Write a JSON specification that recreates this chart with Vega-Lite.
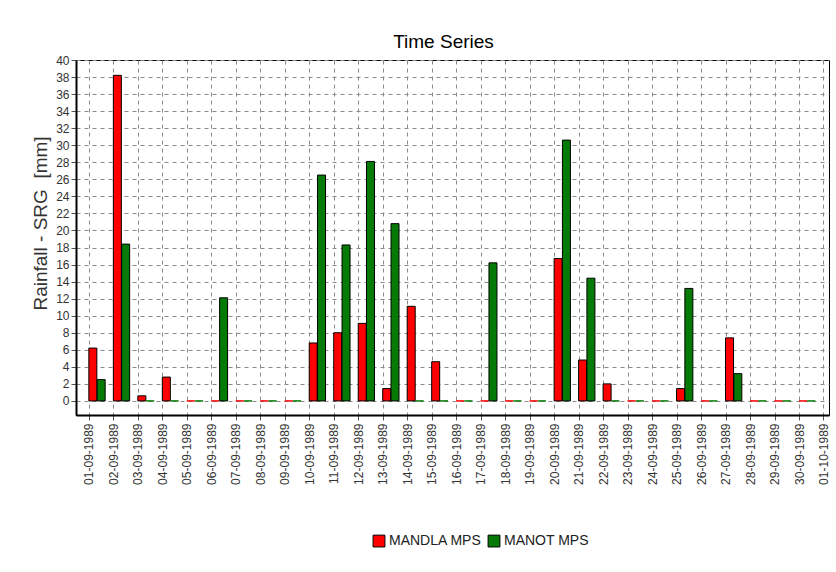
{
  "$schema": "https://vega.github.io/schema/vega-lite/v6.json",
  "autosize": "none",
  "width": 753,
  "height": 355,
  "padding": {"left": 76, "top": 60, "right": 7, "bottom": 157},
  "background": "white",
  "config": {
    "font": "Liberation Sans",
    "view": {"stroke": "#000000", "strokeWidth": 1}
  },
  "title": {
    "text": "Time Series",
    "fontSize": 19,
    "fontWeight": "normal",
    "color": "#000000",
    "anchor": "middle",
    "dx": -9,
    "offset": 2
  },
  "data": {
    "values": [
      {"date": "1989-09-01", "MANDLA MPS": 6.2, "MANOT MPS": 2.5},
      {"date": "1989-09-02", "MANDLA MPS": 38.2, "MANOT MPS": 18.4},
      {"date": "1989-09-03", "MANDLA MPS": 0.6, "MANOT MPS": 0},
      {"date": "1989-09-04", "MANDLA MPS": 2.8, "MANOT MPS": 0},
      {"date": "1989-09-05", "MANDLA MPS": 0, "MANOT MPS": 0},
      {"date": "1989-09-06", "MANDLA MPS": 0, "MANOT MPS": 12.1},
      {"date": "1989-09-07", "MANDLA MPS": 0, "MANOT MPS": 0},
      {"date": "1989-09-08", "MANDLA MPS": 0, "MANOT MPS": 0},
      {"date": "1989-09-09", "MANDLA MPS": 0, "MANOT MPS": 0},
      {"date": "1989-09-10", "MANDLA MPS": 6.8, "MANOT MPS": 26.5},
      {"date": "1989-09-11", "MANDLA MPS": 8.0, "MANOT MPS": 18.3},
      {"date": "1989-09-12", "MANDLA MPS": 9.1, "MANOT MPS": 28.1},
      {"date": "1989-09-13", "MANDLA MPS": 1.45, "MANOT MPS": 20.8},
      {"date": "1989-09-14", "MANDLA MPS": 11.1, "MANOT MPS": 0},
      {"date": "1989-09-15", "MANDLA MPS": 4.6, "MANOT MPS": 0},
      {"date": "1989-09-16", "MANDLA MPS": 0, "MANOT MPS": 0},
      {"date": "1989-09-17", "MANDLA MPS": 0, "MANOT MPS": 16.2},
      {"date": "1989-09-18", "MANDLA MPS": 0, "MANOT MPS": 0},
      {"date": "1989-09-19", "MANDLA MPS": 0, "MANOT MPS": 0},
      {"date": "1989-09-20", "MANDLA MPS": 16.7, "MANOT MPS": 30.6},
      {"date": "1989-09-21", "MANDLA MPS": 4.8, "MANOT MPS": 14.4},
      {"date": "1989-09-22", "MANDLA MPS": 2.0, "MANOT MPS": 0},
      {"date": "1989-09-23", "MANDLA MPS": 0, "MANOT MPS": 0},
      {"date": "1989-09-24", "MANDLA MPS": 0, "MANOT MPS": 0},
      {"date": "1989-09-25", "MANDLA MPS": 1.45, "MANOT MPS": 13.2},
      {"date": "1989-09-26", "MANDLA MPS": 0, "MANOT MPS": 0},
      {"date": "1989-09-27", "MANDLA MPS": 7.4, "MANOT MPS": 3.2},
      {"date": "1989-09-28", "MANDLA MPS": 0, "MANOT MPS": 0},
      {"date": "1989-09-29", "MANDLA MPS": 0, "MANOT MPS": 0},
      {"date": "1989-09-30", "MANDLA MPS": 0, "MANOT MPS": 0}
    ]
  },
  "transform": [
    {"fold": ["MANDLA MPS", "MANOT MPS"], "as": ["series", "value"]}
  ],
  "encoding": {
    "x": {
      "field": "date",
      "type": "temporal",
      "scale": {
        "type": "utc",
        "domain": [
          {"year": 1989, "month": 8, "date": 31, "hours": 16, "minutes": 18, "utc": true},
          {"year": 1989, "month": 10, "date": 1, "hours": 0, "minutes": 30, "utc": true}
        ]
      },
      "axis": {
        "title": null,
        "labelExpr": "utcFormat(datum.value, '%d-%m-%Y')",
        "tickCount": {"interval": "day", "step": 1},
        "labelAngle": 270,
        "labelAlign": "right",
        "labelBaseline": "middle",
        "labelFontSize": 12,
        "labelColor": "#333333",
        "labelPadding": 3,
        "labelOverlap": false,
        "labelFlush": false,
        "grid": true,
        "gridColor": "#8a8a8a",
        "gridDash": [4, 4],
        "gridWidth": 1,
        "domainColor": "#000000",
        "domainWidth": 2,
        "tickColor": "#555555",
        "tickSize": 5
      }
    },
    "y": {
      "field": "value",
      "type": "quantitative",
      "scale": {"domain": [-1.65, 40], "nice": false, "zero": false},
      "axis": {
        "title": "Rainfall - SRG\u00a0 [mm]",
        "titleFontSize": 19,
        "titleFontWeight": "normal",
        "titleColor": "#333333",
        "titlePadding": 5,
        "titleY": 163,
        "values": [0, 2, 4, 6, 8, 10, 12, 14, 16, 18, 20, 22, 24, 26, 28, 30, 32, 34, 36, 38, 40],
        "labelFontSize": 12,
        "labelColor": "#333333",
        "labelPadding": 2,
        "grid": true,
        "gridColor": "#8a8a8a",
        "gridDash": [4, 4],
        "gridWidth": 1,
        "domainColor": "#000000",
        "domainWidth": 2,
        "tickColor": "#555555",
        "tickSize": 5
      }
    },
    "color": {
      "field": "series",
      "type": "nominal",
      "scale": {"domain": ["MANDLA MPS", "MANOT MPS"], "range": ["#ff0000", "#067a06"]},
      "legend": {
        "title": null,
        "orient": "none",
        "direction": "horizontal",
        "legendX": 296,
        "legendY": 474,
        "symbolType": "square",
        "symbolSize": 140,
        "symbolStrokeColor": "#000000",
        "symbolStrokeWidth": 1,
        "symbolOpacity": 1,
        "labelFontSize": 14,
        "labelColor": "#222222",
        "labelOffset": 3,
        "columnPadding": 4
      }
    }
  },
  "layer": [
    {
      "transform": [{"filter": "datum.series == 'MANDLA MPS'"}],
      "mark": {"type": "bar", "width": 8, "xOffset": 4, "strokeWidth": 1, "opacity": 1},
      "encoding": {
        "y2": {"datum": 0},
        "stroke": {"condition": {"test": "datum.value > 0", "value": "#000000"}, "value": "#ff0000"}
      }
    },
    {
      "transform": [{"filter": "datum.series == 'MANOT MPS'"}],
      "mark": {"type": "bar", "width": 8, "xOffset": 12.3, "strokeWidth": 1, "opacity": 1},
      "encoding": {
        "y2": {"datum": 0},
        "stroke": {"condition": {"test": "datum.value > 0", "value": "#000000"}, "value": "#067a06"}
      }
    }
  ]
}
